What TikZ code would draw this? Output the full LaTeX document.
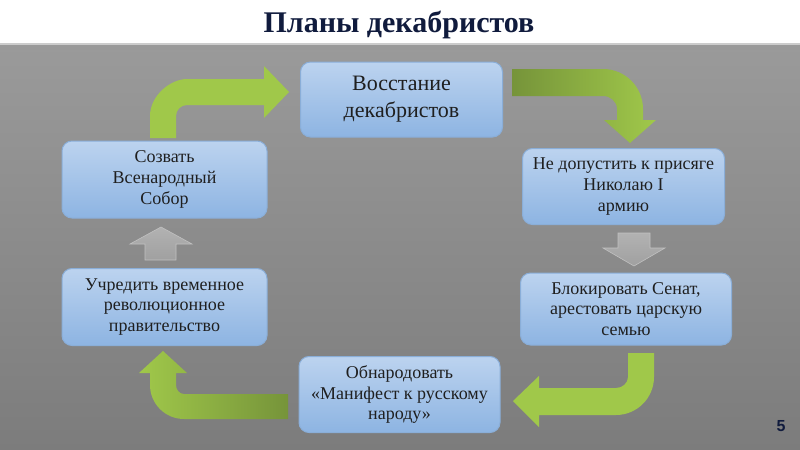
\documentclass[tikz,border=0pt]{standalone}
\usepackage{fontspec}
\setmainfont{Liberation Serif}
\newfontfamily\pagefont{Liberation Sans}
\definecolor{titlenavy}{HTML}{101B3D}
\definecolor{bgtop}{HTML}{9A9A9A}
\definecolor{bgbottom}{HTML}{7C7C7C}
\definecolor{boxtop}{HTML}{BCD3EF}
\definecolor{boxbottom}{HTML}{8DB4E2}
\definecolor{boxline}{HTML}{8AAED8}
\definecolor{greenlight}{HTML}{A0C84A}
\definecolor{greendark}{HTML}{76943A}
\definecolor{graytop}{HTML}{B2B2B2}
\definecolor{graybottom}{HTML}{A0A0A0}

\tikzset{
    plan/.style={rounded corners=5pt, top color=boxtop, bottom color=boxbottom,
        draw=boxline, line width=0.5pt, align=center, text=black!88,
        font=\fontsize{9}{10.4}\selectfont, inner sep=2pt},
    bigplan/.style={plan, font=\fontsize{11}{13.5}\selectfont},
    grayarrow/.style={top color=graytop, bottom color=graybottom, draw=graytop!80!white, line width=0.3pt}
}

\begin{document}
\begin{tikzpicture}[x=0.5pt, y=-0.5pt]
    \useasboundingbox (0,0) rectangle (800,450);
    \fill [white] (0,0) rectangle (800,43);
    \fill [black!20] (0,43) rectangle (800,45);
    \shade [top color=bgtop, bottom color=bgbottom] (0,45) rectangle (800,450);

    \node[anchor=base, text=titlenavy, font=\fontsize{15}{18}\selectfont\bfseries] (title) at (399,32) {Планы декабристов};
    \node[anchor=base, text=titlenavy, font=\pagefont\fontsize{8}{9}\selectfont\bfseries] (page) at (781,431) {5};

    % steps of the plan
    \node[bigplan, minimum width=101pt, minimum height=37.5pt] (vosst) at (401.5,99.5) {Восстание\\декабристов};
    \node[plan, minimum width=101pt, minimum height=38pt] (prisyaga) at (623.5,186.5) {Не допустить к присяге\\Николаю I\\армию};
    \node[plan, minimum width=105.5pt, minimum height=36pt] (senat) at (626,309) {Блокировать Сенат,\\арестовать царскую\\семью};
    \node[plan, minimum width=100.5pt, minimum height=38pt] (manifest) at (399.5,394.5) {Обнародовать\\«Манифест к русскому\\народу»};
    \node[plan, minimum width=102.5pt, minimum height=38.5pt] (pravit) at (164.5,307) {Учредить временное\\революционное\\правительство};
    \node[plan, minimum width=102.5pt, minimum height=38.5pt] (sobor) at (164.5,179.5) {Созвать\\Всенародный\\Собор};

    % bent green arrows
    \fill [greenlight] (150,138) -- (150,116) .. controls (150,95.6) and (170.4,79) .. (187,79) -- (264,79) -- (264,66)
        -- (289,92) -- (264,118) -- (264,105) -- (187,105) .. controls (180.9,105) and (176,110.1) .. (176,116) -- (176,138) -- cycle;
    \shade [left color=greendark, right color=greenlight] (512,69) -- (603,69) .. controls (625.1,69) and (643,86.9) .. (643,109)
        -- (643,120) -- (656,120) -- (630,143) -- (604,120) -- (617,120) -- (617,109)
        .. controls (617,101.5) and (610.5,96) .. (603,96) -- (512,96) -- cycle;
    \fill [greenlight] (628,353) -- (654,353) -- (654,377) .. controls (654,398) and (637,415) .. (616,415) -- (539,415)
        -- (539,427) -- (513,401) -- (539,376) -- (539,388) -- (616,388) .. controls (622.6,388) and (628,383) .. (628,377) -- cycle;
    \shade [left color=greenlight, right color=greendark] (288,394) -- (184,394) .. controls (179.6,394) and (176,390) .. (176,385)
        -- (176,373) -- (187,373) -- (163,351) -- (139,373) -- (150,373) -- (150,385)
        .. controls (150,403.8) and (165.2,419) .. (184,419) -- (288,419) -- cycle;

    % straight gray arrows
    \path [grayarrow] (145,260) -- (145,244) -- (130,244) -- (161,227) -- (192,244) -- (176,244) -- (176,260) -- cycle;
    \path [grayarrow] (618,233) -- (618,248) -- (603,248) -- (634,266) -- (665,248) -- (650,248) -- (650,233) -- cycle;
\end{tikzpicture}
\end{document}
